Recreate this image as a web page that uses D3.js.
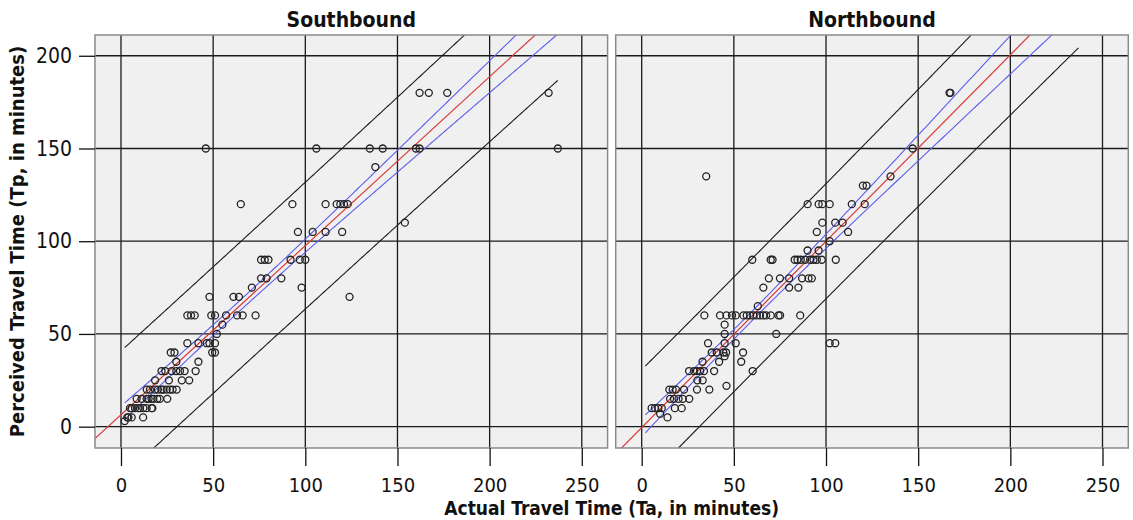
<!DOCTYPE html>
<html><head><meta charset="utf-8">
<script src="https://cdn.jsdelivr.net/npm/d3@7"></script>
<style>
body{margin:0;background:#fff}
text{font-family:"Liberation Sans Narrow","DejaVu Sans Condensed","Arial Narrow","Liberation Sans",sans-serif;font-stretch:condensed;fill:#111}
</style>
</head><body><svg id="c" width="1133" height="520"></svg>
<script>
const panelTitles = ["Southbound", "Northbound"];
const xTicks = [0, 50, 100, 150, 200, 250];
const yTicks = [0, 50, 100, 150, 200];
const xTitle = "Actual Travel Time (Ta, in minutes)";
const yTitle = "Perceived Travel Time (Tp, in minutes)";

const southActual = [162,167,177,232, 46,106,135,142,160,162,237, 138, 65,93,111,117,119,121,123, 154, 96,104,111,120,
  76,78,80,92,97,100, 76,79,87, 71,98, 48,61,64,124, 36,38,40,49,51,57,63,66,73, 55, 52, 36,42,46.5,48,51,
  27,29,49.5,51, 30,42, 22,24,27.5,30,32,34.5,40.5, 18.5,26,33,37, 14,15.7,18.4,20,22,23,24.8,26.6,28,30.2,
  8.5,11.2,13.9,15,16.6,17.5,19.7,21.1,25.1, 4.9,5.8,7.6,9.4,10.3,12.1,13.9,16.6,17, 3.4,4,5.8,12, 2];
const southPerceived = [180,180,180,180, 150,150,150,150,150,150,150, 140, 120,120,120,120,120,120,120, 110, 105,105,105,105,
  90,90,90,90,90,90, 80,80,80, 75,75, 70,70,70,70, 60,60,60,60,60,60,60,60,60, 55, 50, 45,45,45,45,45,
  40,40,40,40, 35,35, 30,30,30,30,30,30,30, 25,25,25,25, 20,20,20,20,20,20,20,20,20,20,
  15,15,15,15,15,15,15,15,15, 10,10,10,10,10,10,10,10,10, 5,5,5,5, 3];

const northActual = [167,167.5, 147, 35,135, 120,122, 90,96,98,102,114,121, 98,105,109, 95,112, 102, 90,96,
  60,70,71,83,84.5,86.3,88.7,91.4,93.2,95,97.7,105.3, 69,75,80,87,90.5,92.3, 66,80,85, 63,
  34,42.5,46,49,51,55.2,57,58.8,60.6,62.4,64.2,66,67.5,70,74.2,75.1,86, 45, 45,73, 36,45,51,102,105,
  38,40.7,44.3,45.8,55, 45, 33,42,54, 25.7,28.4,30,31.7,33.8,39.3,60.2, 30.2,33.1, 46,
  15,16.8,18.6,23,30,36.7, 15.4,17.5,20,22.3,25.8, 5.4,7.2,9,10.9,18,21.7, 10, 14];
const northPerceived = [180,180, 150, 135,135, 130,130, 120,120,120,120,120,120, 110,110,110, 105,105, 100, 95,95,
  90,90,90,90,90,90,90,90,90,90,90,90, 80,80,80,80,80,80, 75,75,75, 65,
  60,60,60,60,60,60,60,60,60,60,60,60,60,60,60,60,60, 55, 50,50, 45,45,45,45,45,
  40,40,40,40,40, 38, 35,35,35, 30,30,30,30,30,30,30, 25,25, 22,
  20,20,20,20,20,20, 15,15,15,15,15, 10,10,10,10,10,10, 7, 5];

// fit: [intercept, slope, band scale, n, mean of x, Sxx]
const southFit = [6.5, 0.911, 34, 150, 61.8, 333000];
const northFit = [-0.5, 1.005, 30.8, 150, 60, 185000];
const fitRange = [2, 237];

const svg = d3.select("#c");
const plotTop = 35, plotBottom = 448;
const panelLeft = [95, 615.7], panelW = 512.6;
const xDomain = [-14.1, 264], yDomain = [-11.5, 211.2];
const y = d3.scaleLinear().domain(yDomain).range([plotBottom, plotTop]);

const data = [
  {title: panelTitles[0], xs: southActual, ys: southPerceived, fit: southFit},
  {title: panelTitles[1], xs: northActual, ys: northPerceived, fit: northFit}
];

data.forEach((p, i) => {
  const x = d3.scaleLinear().domain(xDomain).range([panelLeft[i], panelLeft[i] + panelW]);
  const g = svg.append("g");
  const clipId = "clip" + i;
  svg.append("clipPath").attr("id", clipId).append("rect")
    .attr("x", panelLeft[i]).attr("y", plotTop).attr("width", panelW).attr("height", plotBottom - plotTop);
  g.append("rect").attr("x", panelLeft[i]).attr("y", plotTop).attr("width", panelW).attr("height", plotBottom - plotTop)
    .attr("fill", "#f0f0f0");
  g.selectAll(".gx").data(xTicks).join("line")
    .attr("x1", d => x(d)).attr("x2", d => x(d)).attr("y1", plotTop).attr("y2", plotBottom)
    .attr("stroke", "#1a1a1a").attr("stroke-width", 1.3);
  g.selectAll(".gy").data(yTicks).join("line")
    .attr("y1", d => y(d)).attr("y2", d => y(d)).attr("x1", panelLeft[i]).attr("x2", panelLeft[i] + panelW)
    .attr("stroke", "#1a1a1a").attr("stroke-width", 1.3);

  const [a, b, T, n, xbar, sxx] = p.fit;
  const hw = (xv, k) => T * Math.sqrt(k + 1 / n + (xv - xbar) * (xv - xbar) / sxx);
  const xs = d3.range(fitRange[0], fitRange[1] + 0.001, 1);
  const lg = g.append("g").attr("clip-path", `url(#${clipId})`);
  const line = d3.line().x(d => x(d[0])).y(d => y(d[1]));
  [[1, 1, "#1a1a1a"], [1, -1, "#1a1a1a"], [0, 1, "#5c5cec"], [0, -1, "#5c5cec"]].forEach(([k, s, c]) => {
    lg.append("path").attr("d", line(xs.map(v => [v, a + b * v + s * hw(v, k)])))
      .attr("fill", "none").attr("stroke", c).attr("stroke-width", 1.1);
  });
  lg.append("path").attr("d", line([[xDomain[0], a + b * xDomain[0]], [xDomain[1], a + b * xDomain[1]]]))
    .attr("fill", "none").attr("stroke", "#d83a3a").attr("stroke-width", 1.2);

  lg.selectAll("circle").data(p.xs.map((v, j) => [v, p.ys[j]])).join("circle")
    .attr("cx", d => x(d[0])).attr("cy", d => y(d[1])).attr("r", 3.5)
    .attr("fill", "none").attr("stroke", "#222").attr("stroke-width", 1.3);

  g.append("rect").attr("x", panelLeft[i]).attr("y", plotTop).attr("width", panelW).attr("height", plotBottom - plotTop)
    .attr("fill", "none").attr("stroke", "#8a8a8a").attr("stroke-width", 1.5);

  const xa = g.append("g").attr("transform", `translate(0,${plotBottom})`)
    .call(d3.axisBottom(x).tickValues(xTicks).tickSize(18).tickPadding(12));
  xa.select(".domain").remove();
  xa.selectAll("line").attr("stroke", "#111").attr("stroke-width", 1.3);
  xa.selectAll("text").attr("font-size", 20).attr("font-family", null);

  svg.append("text").attr("x", panelLeft[i] + panelW / 2).attr("y", 27)
    .attr("text-anchor", "middle").attr("font-weight", "bold").attr("font-size", 21).text(p.title);

  if (i === 0) {
    const ya = g.append("g").attr("transform", `translate(${panelLeft[0]},0)`)
      .call(d3.axisLeft(y).tickValues(yTicks).tickSize(16).tickPadding(7));
    ya.select(".domain").remove();
    ya.selectAll("line").attr("stroke", "#111").attr("stroke-width", 1.3);
    ya.selectAll("text").attr("font-size", 21).attr("font-family", null);
  }
});

svg.append("text").attr("x", (panelLeft[0] + panelLeft[1] + panelW) / 2).attr("y", 515)
  .attr("text-anchor", "middle").attr("font-weight", "bold").attr("font-size", 19).text(xTitle);
svg.append("text").attr("transform", `translate(24,${(plotTop + plotBottom) / 2}) rotate(-90)`)
  .attr("text-anchor", "middle").attr("font-weight", "bold").attr("font-size", 20).text(yTitle);
</script>
</body></html>
